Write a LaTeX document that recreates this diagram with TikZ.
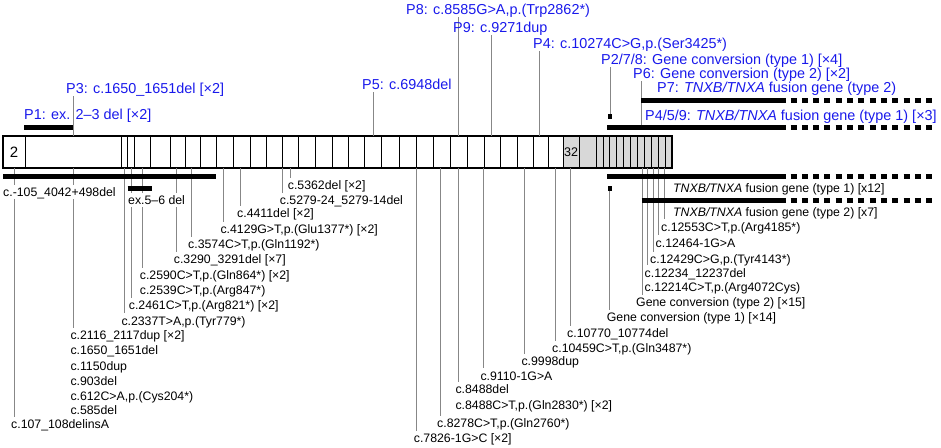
\documentclass[tikz,border=0pt]{standalone}
\usepackage{fontspec}
\setmainfont{Liberation Sans}
\definecolor{pblue}{RGB}{25,25,235}
\definecolor{cgray}{RGB}{135,135,135}
\definecolor{exgray}{RGB}{216,216,216}
\tikzset{
  lab/.style={anchor=west, inner sep=0pt, font=\fontsize{12.3}{14}\selectfont, text height=8.8pt, text depth=0pt},
  plab/.style={anchor=west, inner sep=0pt, font=\fontsize{14.4}{16}\selectfont, text=pblue, text height=10.3pt, text depth=0pt},
  conn/.style={draw=cgray, line width=0.9pt},
  sbar/.style={line width=5pt, line cap=butt},
  dbar/.style={line width=5pt, line cap=butt, dash pattern=on 6pt off 5.3pt},
  cellline/.style={line width=0.8pt},
  sq/.style={fill=black, draw=none},
}
\newcommand\mylab[4]{%
  \coordinate (#1s) at (#2,168);
  \coordinate (#1e) at (#2,#3-7.5);
  \draw[conn] (#1s) -- (#1e);
  \node[lab] (#1) at (#2-3,#3) {#4};
}
\begin{document}
\begin{tikzpicture}[x=1pt,y=-1pt]
\useasboundingbox (0,0) rectangle (941,447);

% ---- gene bar ----
\fill[exgray] (563,136) rectangle (672,168);
\foreach \b in {25,121,127,134.5,150,170,185,200,216,233,250,266,282,298,315,332,348,364.5,381.5,399,416,433,450,467,484,500,517,533,548,563,579,596,602.9,609.8,616.7,623.6,630.5,637.4,644.3,651.2,658.1,665}
  \draw[cellline] (\b,136) -- (\b,168);
\draw[line width=2pt] (3,136) rectangle (672,168);
\node[inner sep=0pt, font=\fontsize{15}{16}\selectfont] (ex2) at (14,152) {2};
\node[inner sep=0pt, font=\fontsize{12.5}{14}\selectfont] (ex32) at (571,152.5) {32};

% ---- top connectors ----
\coordinate (p3a) at (73,96);   \coordinate (p3b) at (73,136);
\coordinate (p5a) at (373,92);  \coordinate (p5b) at (373,136);
\coordinate (p8a) at (458,17);  \coordinate (p8b) at (458,136);
\coordinate (p9a) at (491,35);  \coordinate (p9b) at (491,136);
\coordinate (p4a) at (539,51);  \coordinate (p4b) at (539,136);
\coordinate (p278a) at (610,67); \coordinate (p278b) at (610,114);
\coordinate (p6a) at (641,81);  \coordinate (p6b) at (641,125);
\draw[conn] (p3a) -- (p3b);
\draw[conn] (p5a) -- (p5b);
\draw[conn] (p8a) -- (p8b);
\draw[conn] (p9a) -- (p9b);
\draw[conn] (p4a) -- (p4b);
\draw[conn] (p278a) -- (p278b);
\draw[conn] (p6a) -- (p6b);

% ---- bottom connectors + labels ----
\mylab{l1}{14}{424}{c.107\_108delinsA}
\mylab{l2}{73.3}{335}{c.2116\_2117dup [×2]}
\node[lab] (l2b) at (70.3,350.5) {c.1650\_1651del};
\node[lab] (l2c) at (70.3,366) {c.1150dup};
\node[lab] (l2d) at (70.3,381) {c.903del};
\node[lab] (l2e) at (70.3,396) {c.612C>A,p.(Cys204*)};
\node[lab] (l2f) at (70.3,410.5) {c.585del};
\mylab{l3}{124.3}{320.7}{c.2337T>A,p.(Tyr779*)}
\mylab{l4}{131.7}{305.3}{c.2461C>T,p.(Arg821*) [×2]}
\mylab{l5}{142.7}{275}{c.2590C>T,p.(Gln864*) [×2]}
\node[lab] (l5b) at (139.7,290) {c.2539C>T,p.(Arg847*)};
\mylab{l6}{176.7}{259.5}{c.3290\_3291del [×7]}
\mylab{l7}{191}{244.5}{c.3574C>T,p.(Gln1192*)}
\mylab{l8}{223.3}{229.3}{c.4129G>T,p.(Glu1377*) [×2]}
\mylab{l9}{240}{213.5}{c.4411del [×2]}
\mylab{l10}{282.7}{200.5}{c.5279-24\_5279-14del}
\mylab{l11}{290.7}{185}{c.5362del [×2]}

\mylab{m1}{416.7}{438.3}{c.7826-1G>C [×2]}
\mylab{m2}{440}{423.3}{c.8278C>T,p.(Gln2760*)}
\mylab{m3}{458.3}{389.3}{c.8488del}
\node[lab] (m3b) at (455.3,405) {c.8488C>T,p.(Gln2830*) [×2]};
\mylab{m4}{483.3}{375.7}{c.9110-1G>A}
\mylab{m5}{524.3}{361}{c.9998dup}
\mylab{m6}{555}{348.5}{c.10459C>T,p.(Gln3487*)}
\mylab{m7}{570}{333.3}{c.10770\_10774del}

% right group
\coordinate (g1s) at (609.5,190); \coordinate (g1e) at (609.5,309.8);
\draw[conn] (g1s) -- (g1e);
\node[lab] (g1) at (606.7,317.3) {Gene conversion (type 1) [×14]};
\coordinate (g2s) at (642,168); \coordinate (g2e) at (642,295);
\draw[conn] (g2s) -- (g2e);
\node[lab] (g2) at (636,302.5) {Gene conversion (type 2) [×15]};
\mylab{r1}{647.5}{272.7}{c.12234\_12237del}
\node[lab] (r1b) at (644.5,287.5) {c.12214C>T,p.(Arg4072Cys)};
\mylab{r2}{653}{259.3}{c.12429C>G,p.(Tyr4143*)}
\mylab{r3}{658.5}{242.7}{c.12464-1G>A}
\mylab{r4}{664}{226.7}{c.12553C>T,p.(Arg4185*)}

% ---- bars ----
\draw[sbar] (24,127.5) -- (73,127.5);
\draw[sbar] (641,100.5) -- (786,100.5);
\draw[dbar] (790.5,100.5) -- (937,100.5);
\draw[sbar] (607,127.5) -- (786,127.5);
\draw[dbar] (790.5,127.5) -- (937,127.5);
\fill[sq] (608,113.5) rectangle (612,118.5);

\draw[sbar] (3,176.5) -- (216,176.5);
\draw[line width=4.5pt] (127.7,188.7) -- (151.7,188.7);
\draw[sbar] (607,176.5) -- (786,176.5);
\draw[dbar] (790.5,176.5) -- (937,176.5);
\draw[sbar] (641.7,200.5) -- (786,200.5);
\draw[dbar] (790.5,200.5) -- (937,200.5);
\fill[sq] (607.5,185.5) rectangle (611.5,190.5);

% ---- labels covering lines ----
\node[lab, fill=white, inner ysep=2.5pt] (bigdel) at (3,192) {c.-105\_4042+498del};
\node[lab, fill=white, inner ysep=2.5pt] (ex56) at (128,200) {ex.5–6 del};
\node[lab] (f1) at (673,188) {\textit{TNXB/TNXA} fusion gene (type 1) [x12]};
\node[lab] (f2) at (673,211.7) {\textit{TNXB/TNXA} fusion gene (type 2) [x7]};

% ---- top blue labels ----
\node[plab] (p1) at (24,114) {P1: ex. 2–3 del [×2]};
\node[plab] (p3) at (66,88) {P3: c.1650\_1651del [×2]};
\node[plab] (p5) at (362,84) {P5: c.6948del};
\node[plab] (p8) at (406,9.5) {P8: c.8585G>A,p.(Trp2862*)};
\node[plab] (p9) at (453,27) {P9: c.9271dup};
\node[plab] (p4) at (533,43.5) {P4: c.10274C>G,p.(Ser3425*)};
\node[plab] (p278) at (601,59.5) {P2/7/8: Gene conversion (type 1) [×4]};
\node[plab] (p6) at (633,73.5) {P6: Gene conversion (type 2) [×2]};
\node[plab] (p7) at (657,87.5) {P7: \textit{TNXB/TNXA} fusion gene (type 2)};
\node[plab] (p459) at (645,115) {P4/5/9: \textit{TNXB/TNXA} fusion gene (type 1) [×3]};
\end{tikzpicture}
\end{document}
